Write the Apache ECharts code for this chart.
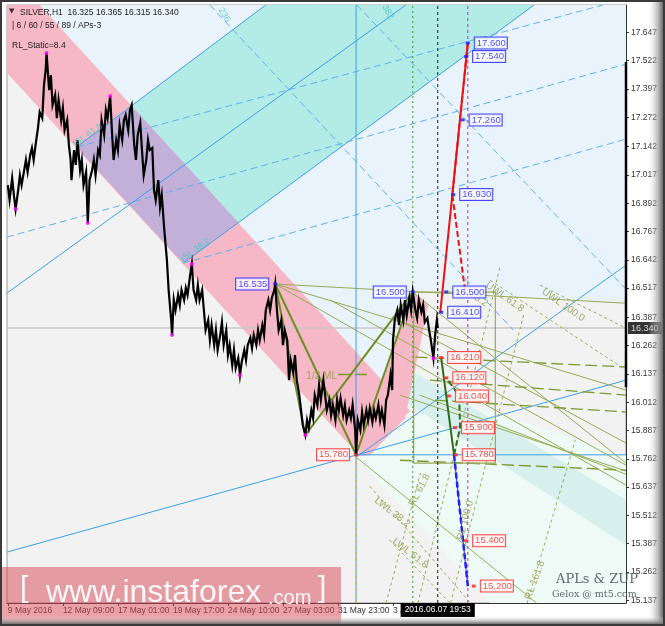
<!DOCTYPE html>
<html><head><meta charset="utf-8">
<script src="https://cdn.jsdelivr.net/npm/echarts@6/dist/echarts.min.js"></script>
<style>html,body{margin:0;padding:0;background:#fff;}#c{width:665px;height:626px;}</style>
</head><body><div id="c"></div>
<script>
// ---------- axes ----------
const X_MIN = -1, X_MAX = 719;          // H1 bar index (0 = 9 May 2016)
const Y_MIN = 15.125, Y_MAX = 17.768;   // price
const xTickBars = [0, 64, 128, 192, 256, 320, 384, 448];
const xTickLabels = ['9 May 2016', '12 May 09:00', '17 May 01:00', '19 May 17:00', '24 May 10:00', '27 May 03:00', '31 May 23:00', '3 Jun 15:00'];
const yTickValues = [17.647, 17.522, 17.397, 17.272, 17.142, 17.017, 16.892, 16.767, 16.642, 16.517, 16.387, 16.262, 16.137, 16.012, 15.887, 15.762, 15.637, 15.512, 15.387, 15.262, 15.137];
const lastPrice = 16.340;
const cursorBar = 500;
const cursorText = '2016.06.07 19:53';

// ---------- price path (bar, price) ----------
const pricePath = [[0,16.972],[2,16.906],[5,17.003],[7,16.928],[9,16.866],[12,16.950],[14,17.016],[16,16.972],[19,17.038],[21,17.083],[23,17.030],[26,17.105],[28,17.136],[30,17.083],[33,17.171],[35,17.224],[37,17.295],[40,17.268],[42,17.414],[44,17.481],[45,17.556],[48,17.392],[50,17.458],[52,17.326],[55,17.370],[57,17.268],[59,17.348],[62,17.259],[64,17.313],[66,17.215],[69,17.259],[71,17.149],[73,17.083],[74,16.994],[77,17.127],[79,17.061],[81,17.171],[84,17.038],[86,17.083],[88,16.972],[91,17.030],[93,16.804],[95,16.994],[98,17.038],[100,17.083],[102,17.016],[105,17.127],[107,17.105],[109,17.259],[112,17.193],[114,17.304],[116,17.268],[119,17.366],[121,17.215],[123,17.083],[126,17.171],[128,17.127],[130,17.237],[133,17.171],[135,17.259],[137,17.282],[140,17.215],[142,17.304],[144,17.326],[147,17.149],[149,17.083],[151,17.193],[154,17.246],[156,17.127],[158,17.016],[161,17.083],[163,17.171],[165,17.127],[168,17.136],[170,16.950],[172,16.906],[175,16.994],[177,16.875],[179,16.928],[182,16.773],[184,16.685],[185,16.641],[187,16.508],[190,16.375],[191,16.309],[193,16.464],[195,16.419],[198,16.486],[200,16.442],[202,16.508],[205,16.464],[207,16.517],[209,16.486],[212,16.574],[214,16.623],[216,16.508],[219,16.464],[221,16.530],[223,16.464],[226,16.508],[228,16.419],[230,16.331],[233,16.375],[235,16.287],[237,16.353],[240,16.265],[242,16.331],[244,16.243],[247,16.309],[249,16.366],[251,16.265],[254,16.331],[256,16.221],[258,16.265],[261,16.176],[263,16.243],[265,16.163],[268,16.207],[270,16.132],[272,16.190],[275,16.243],[277,16.198],[279,16.265],[282,16.296],[284,16.251],[286,16.309],[289,16.265],[291,16.331],[293,16.287],[296,16.353],[298,16.309],[300,16.419],[303,16.464],[305,16.419],[307,16.473],[310,16.508],[311,16.535],[313,16.419],[315,16.331],[318,16.375],[320,16.265],[322,16.331],[325,16.287],[327,16.110],[329,16.198],[332,16.145],[334,16.221],[336,16.110],[339,16.044],[341,15.977],[343,15.911],[346,15.867],[348,15.933],[350,15.898],[353,15.977],[355,15.942],[357,16.044],[360,16.000],[362,16.088],[364,16.022],[367,16.110],[369,16.044],[371,15.977],[374,16.022],[376,15.955],[378,16.000],[381,15.933],[383,16.022],[385,15.977],[387,16.030],[390,15.955],[392,16.000],[394,15.933],[397,15.977],[399,15.942],[401,16.000],[404,15.889],[405,15.780],[407,15.933],[410,15.889],[412,15.969],[414,15.911],[417,15.977],[419,15.933],[421,15.986],[424,15.924],[426,15.977],[428,15.942],[431,16.000],[433,15.933],[435,15.977],[438,15.911],[440,16.022],[442,16.044],[445,16.132],[447,16.066],[448,16.287],[450,16.375],[453,16.419],[455,16.353],[457,16.442],[460,16.375],[462,16.464],[464,16.397],[467,16.473],[469,16.419],[471,16.500],[474,16.419],[476,16.384],[478,16.464],[481,16.411],[483,16.442],[485,16.366],[488,16.384],[490,16.331],[492,16.287],[495,16.207],[497,16.309],[499,16.375],[500,16.340]];
const swingDots = [[9,16.866],[45,17.556],[93,16.804],[119,17.366],[191,16.309],[214,16.623],[270,16.132],[346,15.867],[495,16.207]];

// ---------- shaded zones (bar, price) ----------
const zoneLightBlue = [[37,17.768],[719,17.768],[719,16.450],[471,16.499],[468,15.973]];
const zoneMint = [[405,15.770],[503,16.044],[719,15.778],[719,15.125],[561,15.125]];
const zoneTeal = [[450,16.198],[719,15.580],[719,15.381],[450,16.044]];
const zonePink = [[-1,17.768],[37,17.768],[468,15.973],[405,15.792],[-1,17.467]];
const zoneCyan = [[80,17.140],[300,17.768],[612,17.768],[204,16.627]];
const zonePurple = [[80,17.140],[144,17.322],[268,16.807],[204,16.627]];
const zonePinkWedge = [[407,15.774],[471,16.499],[489,16.442],[462,15.942],[421,15.778]];

// ---------- lines (bar, price) ----------
const blueSolid = [
  [[80,17.140],[300,17.768]], [[204,16.627],[612,17.768]], [[-1,16.495],[463,17.768]],
  [[405,15.770],[719,16.618]], [[-1,15.350],[719,16.110]], [[405,15.780],[719,15.780]]
];
const blueDashed = [
  [[-1,16.742],[719,17.507]], [[80,17.140],[692,17.768]], [[204,16.627],[719,17.175]],
  [[406,17.768],[719,16.512]], [[235,17.768],[588,16.331]]
];
const oliveThick = [
  [[311,16.535],[346,15.867]], [[311,16.535],[405,15.780]], [[346,15.867],[471,16.500]], [[405,15.780],[471,16.500]]
];
const oliveThin = [
  [[311,16.535],[719,16.450]], [[471,16.499],[719,15.743]], [[450,16.384],[719,15.832]],
  [[456,16.044],[719,15.708]], [[405,15.770],[615,15.125]], [[479,16.044],[719,15.694]],
  [[311,16.535],[719,16.066]], [[311,16.535],[719,15.646]], [[375,16.464],[719,15.734]]
];
const oliveLongDash = [
  [[474,16.212],[719,16.168]], [[491,16.110],[719,16.044]], [[497,16.022],[719,15.969]], [[456,15.756],[719,15.712]],
  [[384,16.135],[420,16.135]]
];
const oliveShortDash = [
  [[561,16.552],[719,16.154]], [[619,16.530],[719,16.340]], [[421,15.641],[538,15.125]], [[444,15.403],[514,15.125]],
  [[477,15.125],[573,16.618]], [[515,15.125],[600,16.400]], [[604,15.125],[660,15.845]], [[440,15.125],[480,15.700]]
];
const oliveBox = [[472,16.499],[567,16.499],[567,15.743],[472,15.743],[472,16.499]];

// ---------- projections ----------
const redSolid = [[503,16.410],[517,16.930],[535,17.600]];
const redDashed = [[535,17.600],[517,16.930],[532,16.500]];
const greenSolid = [[504,16.210],[519,15.780]];
const greenDashed = [[519,15.780],[526,15.900],[525,16.040],[510,16.120]];
const blueProj = [[519,15.780],[535,15.200]];

// ---------- vertical markers ----------
const vBlueBar = 405, vGreenBar = 471, vBlackBar = 500, vPurpleBar = 535;
const rangeBar = [[719,17.516],[719,16.079]];

// ---------- price labels ----------
const blueTagsRight = [[535,17.600],[533,17.540],[529,17.260],[518,16.930],[510,16.500],[504,16.410]];
const blueTagsLeft = [[311,16.535],[471,16.500]];
const redTagsRight = [[504,16.210],[510,16.120],[513,16.040],[520,15.900],[521,15.780],[533,15.400],[542,15.200]];
const redTagsLeft = [[405,15.780]];

// ---------- level captions ----------
const oliveCaptions = [
  [365,16.125,'1/2 ML',0],[479,15.624,'RL 61.8',62],[532,15.491,'RL 100.0',75],[613,15.226,'RL 161.8',70],
  [447,15.526,'LWL 38.2',-38],[468,15.345,'LWL 61.8',-38],[578,16.477,'UWL 61.8',-35],[646,16.442,'UWL 100.0',-35],
  [548,16.468,'38.2',-35]
];
const blueCaptions = [[93,17.193,'ISL 61.8',35],[218,16.685,'ISL 38.2',35],[252,17.724,'236',-60],[442,17.737,'382',-60]];

const OLIVE = '#7d9a2e', OLIVE_L = '#97ab55', BLUE = '#3d9fe8', BLUE_D = '#5fb2ee';

function poly(pts, color, z) {
  return { type: 'custom', silent: true, z: z, clip: true, data: [[0, 0]],
    renderItem: function (p, api) {
      return { type: 'polygon', shape: { points: pts.map(function (q) { return api.coord(q); }) }, style: { fill: color, stroke: null } };
    } };
}
function seg(pts, color, width, type, z, clip) {
  return { type: 'line', data: pts, showSymbol: false, silent: true, z: z || 3, clip: clip !== false,
    lineStyle: { color: color, width: width, type: type || 'solid' }, animation: false };
}
function vline(bar, color, type, lo, hi) {
  return seg([[bar, lo === undefined ? Y_MIN : lo], [bar, hi === undefined ? Y_MAX : hi]], color, 1, type, 3);
}
function tags(pts, color, side) {
  return { type: 'scatter', data: pts, z: 20, clip: false, symbol: 'rect', symbolSize: [4, 3],
    itemStyle: { color: color },
    label: { show: true, position: side, distance: 5, formatter: function (p) { return p.value[1].toFixed(3); },
      backgroundColor: '#fff', borderColor: color, borderWidth: 1, padding: [1, 1, 0, 2],
      color: color, fontSize: 9.5, fontFamily: 'Liberation Sans' } };
}
function captions(list, color, size) {
  return { type: 'scatter', z: 15, symbolSize: 0, silent: true,
    labelLayout: { hideOverlap: false },
    data: list.map(function (c) { return { value: [c[0], c[1]], name: c[2], label: { rotate: c[3] } }; }),
    label: { show: true, position: 'inside', formatter: '{b}', color: color, fontSize: size, fontFamily: 'Liberation Sans' } };
}

const series = [];
series.push(poly(zoneLightBlue, '#e9f3fc', 1));
series.push(poly(zoneMint, '#eefaf6', 1));
series.push(poly(zoneTeal, '#d8f0ed', 1));
series.push(poly(zoneCyan, '#b3ebe6', 1));
series.push(poly(zonePink, '#f6b8c6', 1));
series.push(poly(zonePinkWedge, '#f6b8c6', 1));
series.push(poly(zonePurple, '#c3b0d8', 1));
series.push(seg([[X_MIN, lastPrice], [X_MAX, lastPrice]], '#c8c8c8', 1.5, 'solid', 2));
blueSolid.forEach(function (s) { series.push(seg(s, BLUE, 1, 'solid', 3)); });
blueDashed.forEach(function (s) { series.push(seg(s, BLUE_D, 1, [7, 4], 3)); });
oliveThin.forEach(function (s) { series.push(seg(s, OLIVE_L, 1, 'solid', 3)); });
oliveLongDash.forEach(function (s) { series.push(seg(s, OLIVE, 1.3, [12, 5], 3)); });
oliveShortDash.forEach(function (s) { series.push(seg(s, OLIVE_L, 1, [3, 3], 3)); });
series.push(seg(oliveBox, OLIVE_L, 1.2, 'solid', 3));
oliveThick.forEach(function (s) { series.push(seg(s, '#6f8f22', 2, 'solid', 4)); });
series.push(vline(vBlueBar, BLUE, 'solid'));
series.push(vline(vBlueBar, '#f5a623', [3, 3], Y_MIN, 15.780));
series.push(vline(vGreenBar, '#3f9a2a', [2, 3]));
series.push(vline(vBlackBar, '#222', [3, 3]));
series.push(vline(vPurpleBar, '#b030d8', [3, 3]));
series.push({ type: 'line', data: pricePath, showSymbol: false, silent: true, z: 5, clip: true,
  lineStyle: { color: '#000', width: 2.2, join: 'miter' }, animation: false });
series.push({ type: 'scatter', data: swingDots, symbolSize: 4, z: 6, itemStyle: { color: '#ff00ff' }, silent: true });
series.push(seg(redSolid, '#ee1111', 2, 'solid', 7));
series.push(seg(redDashed, '#ee1111', 2, [6, 3], 7));
series.push(seg(greenSolid, '#2c6e1a', 2, 'solid', 7));
series.push(seg(greenDashed, '#2c6e1a', 2, [6, 3], 7));
series.push(seg(blueProj, '#2222ee', 2.5, [6, 3], 7));
series.push(seg(blueProj, '#2222ee', 1, 'solid', 7));
series.push(seg(rangeBar, '#000', 2.5, 'solid', 8, false));
series.push(captions(oliveCaptions, '#8f9a45', 10));
series.push(captions(blueCaptions, '#43c6c6', 9));
series.push(tags(blueTagsRight, '#1c1cff', 'right'));
series.push(tags(blueTagsLeft, '#1c1cff', 'left'));
series.push(tags(redTagsRight, '#ff2020', 'right'));
series.push(tags(redTagsLeft, '#ff2020', 'left'));
series.push({ type: 'scatter', data: [[X_MAX, lastPrice]], symbolSize: 0, z: 30, clip: false, silent: true,
  label: { show: true, position: 'right', distance: 2, formatter: lastPrice.toFixed(3), backgroundColor: '#000',
    color: '#fff', fontSize: 9, fontFamily: 'Liberation Sans', padding: [2, 3, 1, 3] } });

const chart = echarts.init(document.getElementById('c'), null, { renderer: 'canvas' });
chart.setOption({
  animation: false,
  backgroundColor: '#ffffff',
  grid: { left: 7, right: 39, top: 5, bottom: 23, show: true, backgroundColor: '#f2f2f2', borderColor: '#9a9a9a', borderWidth: 1 },
  xAxis: { type: 'value', min: X_MIN, max: X_MAX, splitLine: { show: false },
    axisLine: { show: true, onZero: false, lineStyle: { color: '#333' } },
    axisTick: { show: true, length: 3, lineStyle: { color: '#333' }, customValues: xTickBars },
    axisLabel: { customValues: xTickBars, align: 'left', margin: 3, color: '#333', fontSize: 8.5, fontFamily: 'Liberation Sans',
      formatter: function (v) { const i = xTickBars.indexOf(Math.round(v)); return i >= 0 ? xTickLabels[i] : ''; } } },
  yAxis: { type: 'value', position: 'right', min: Y_MIN, max: Y_MAX, splitLine: { show: false },
    axisLine: { show: true, onZero: false, lineStyle: { color: '#333' } },
    axisTick: { show: true, length: 3, lineStyle: { color: '#333' }, customValues: yTickValues },
    axisLabel: { customValues: yTickValues, margin: 5, color: '#333', fontSize: 8.5, fontFamily: 'Liberation Sans',
      formatter: function (v) { return v.toFixed(3); } } },
  series: series,
  graphic: []
});

const cx = chart.convertToPixel({ xAxisIndex: 0 }, cursorBar);
chart.setOption({ graphic: [
  { type: 'rect', z: 100, silent: true, shape: { x: 0, y: 0, width: 665, height: 626 }, style: { fill: null, stroke: '#3a3a3a', lineWidth: 4 } },
  { type: 'rect', z: 99, silent: true, shape: { x: 648, y: 2, width: 15, height: 622 },
    style: { fill: new echarts.graphic.LinearGradient(0, 0, 1, 0, [{ offset: 0, color: 'rgba(240,240,240,0)' }, { offset: 1, color: '#6a6a6a' }]) } },
  { type: 'rect', z: 99, silent: true, shape: { x: 2, y: 616, width: 661, height: 8 },
    style: { fill: new echarts.graphic.LinearGradient(0, 0, 0, 1, [{ offset: 0, color: 'rgba(230,230,230,0)' }, { offset: 1, color: '#707070' }]) } },
  { type: 'text', z: 50, left: 9, top: 8, style: { text: '▼', fill: '#333', font: '7px "DejaVu Sans"' } },
  { type: 'text', z: 50, left: 20, top: 8, style: { text: 'SILVER,H1  16.325 16.365 16.315 16.340', fill: '#222', font: '8.5px "Liberation Sans"' } },
  { type: 'text', z: 50, left: 12, top: 21, style: { text: '| 6 / 60 / 55 / 89 / APs-3', fill: '#222', font: '8.5px "Liberation Sans"' } },
  { type: 'text', z: 50, left: 12, top: 41, style: { text: 'RL_Static=8.4', fill: '#222', font: '8.5px "Liberation Sans"' } },
  { type: 'text', z: 50, left: 556, top: 573, style: { text: 'APLs & ZUP', fill: '#5c6b6b', font: '13px "DejaVu Serif"' } },
  { type: 'text', z: 50, left: 552, top: 590, style: { text: 'Gelox @ mt5.com', fill: '#5c6b6b', font: '9.5px "DejaVu Serif"' } },
  { type: 'rect', z: 90, silent: true, shape: { x: 0, y: 567, width: 341, height: 59 }, style: { fill: 'rgba(214,70,82,0.5)' } },
  { type: 'text', z: 91, left: 20, top: 574, style: { text: '[', fill: 'rgba(255,255,255,0.92)', font: '30px "Liberation Sans"' } },
  { type: 'text', z: 91, left: 46, top: 577, style: { text: 'www.instaforex', fill: 'rgba(255,255,255,0.92)', font: '32px "Liberation Sans"' } },
  { type: 'text', z: 91, left: 268, top: 588, style: { text: '.com', fill: 'rgba(255,255,255,0.92)', font: '20px "Liberation Sans"' } },
  { type: 'text', z: 91, left: 318, top: 574, style: { text: ']', fill: 'rgba(255,255,255,0.92)', font: '30px "Liberation Sans"' } },
  { type: 'text', z: 60, x: cx, y: 610, style: { text: cursorText, fill: '#fff', font: '8.5px "Liberation Sans"', align: 'center', verticalAlign: 'middle',
    backgroundColor: '#000', padding: [3, 4, 2, 4] } }
] });
</script></body></html>
